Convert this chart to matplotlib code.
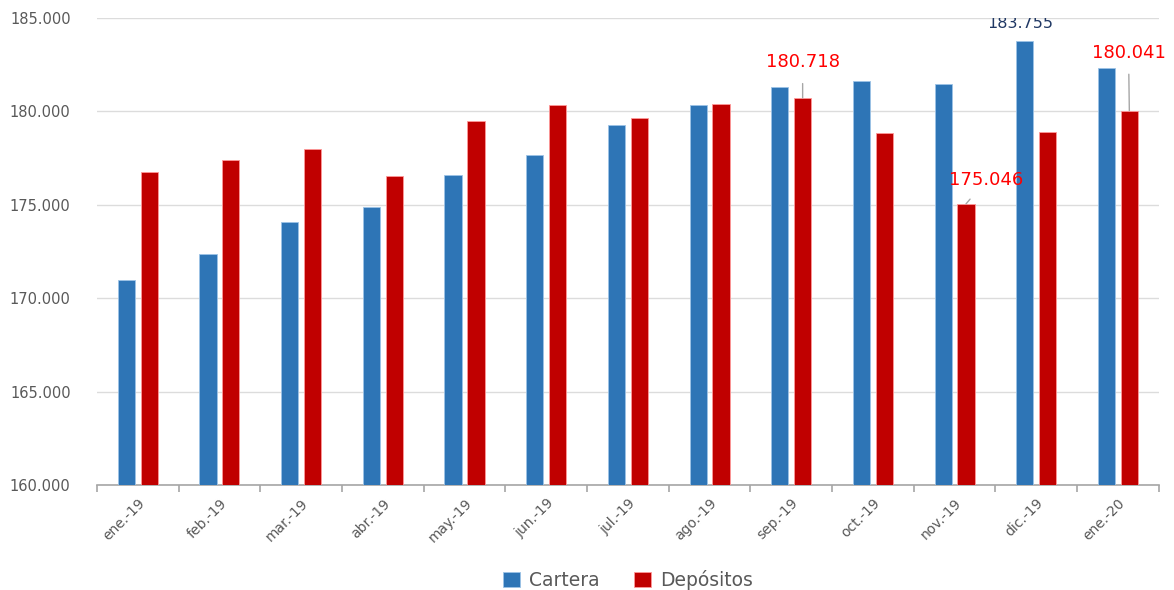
import matplotlib
matplotlib.use('Agg')
import matplotlib.pyplot as plt
import numpy as np

meses = ['ene.-19', 'feb.-19', 'mar.-19', 'abr.-19', 'may.-19', 'jun.-19', 'jul.-19',
         'ago.-19', 'sep.-19', 'oct.-19', 'nov.-19', 'dic.-19', 'ene.-20']
cartera = [170.98, 172.39, 174.06, 174.87, 176.60, 177.68, 179.28,
           180.32, 181.31, 181.61, 181.44, 183.755, 182.32]
depositos = [176.76, 177.41, 178.00, 176.53, 179.51, 180.32, 179.67,
             180.40, 180.718, 178.85, 175.046, 178.90, 180.041]
yticks = [160, 165, 170, 175, 180, 185]

azul = '#2e75b6'
rojo = '#c00000'
gris = '#595959'

fig = plt.figure(figsize=(11.74, 5.9), dpi=100)
ax = fig.add_axes([0.0826, 0.178, 0.9044, 0.7915])

x = np.arange(len(meses))
w = 0.21
off = 0.14
ax.bar(x - off, cartera, w, color=azul, edgecolor='#9dc3e6', linewidth=0.6, label='Cartera', zorder=3)
ax.bar(x + off, depositos, w, color=rojo, edgecolor='#ff9999', linewidth=0.6, label='Depósitos', zorder=3)

ax.set_xlim(-0.5, len(meses) - 0.5)
ax.set_ylim(160, 185)
ax.set_yticks(yticks)
ax.set_yticklabels(['{:.3f}'.format(v) for v in yticks], fontsize=10.5, color=gris)
ax.grid(axis='y', color='#dcdcdc', linewidth=1.0, zorder=0)

ax.set_xticks(x)
ax.set_xticklabels(meses, rotation=45, ha='right', rotation_mode='anchor', fontsize=10, color=gris)
ax.set_xticks(np.arange(-0.5, len(meses)), minor=True)
ax.tick_params(axis='x', which='major', length=0, pad=8)
ax.tick_params(axis='x', which='minor', length=5, color='#a6a6a6', width=1.2)
ax.tick_params(axis='y', length=0, pad=19)

for s in ['left', 'right', 'top']:
    ax.spines[s].set_visible(False)
ax.spines['bottom'].set_color('#a6a6a6')
ax.spines['bottom'].set_linewidth(1.2)

# etiquetas de datos
lc = '#a6a6a6'
ax.annotate('{:.3f}'.format(depositos[8]), xy=(8 + off, depositos[8]), xytext=(8 + off, 182.64),
            ha='center', va='center', color='#ff0000', fontsize=13,
            arrowprops=dict(arrowstyle='-', color=lc, lw=1, shrinkB=0, shrinkA=7))
ax.annotate('{:.3f}'.format(depositos[10]), xy=(10 + off, depositos[10]), xytext=(10.39, 176.33),
            ha='center', va='center', color='#ff0000', fontsize=13,
            arrowprops=dict(arrowstyle='-', color=lc, lw=1, shrinkB=0, shrinkA=7))
ax.annotate('{:.3f}'.format(depositos[12]), xy=(12 + off, depositos[12]), xytext=(12.13, 183.14),
            ha='center', va='center', color='#ff0000', fontsize=13, annotation_clip=False,
            arrowprops=dict(arrowstyle='-', color=lc, lw=1, shrinkB=0, shrinkA=7))
ax.text(10.81, 184.68, '{:.3f}'.format(cartera[11]), ha='center', va='center',
        color='#203864', fontsize=11.5, clip_on=True)

fig.legend(loc='center', bbox_to_anchor=(0.535, 0.017), ncol=2, frameon=False,
           fontsize=13.5, handlelength=0.9, handleheight=0.9, handletextpad=0.5,
           columnspacing=1.8, labelcolor=gris)

fig.savefig('out.png', dpi=100)
